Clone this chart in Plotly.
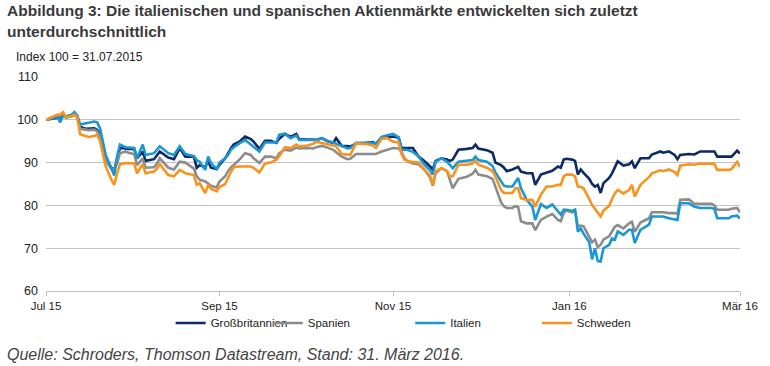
import plotly.graph_objects as go

dates = [
    "2015-07-31", "2015-08-02", "2015-08-04", "2015-08-05", "2015-08-06", "2015-08-07", "2015-08-09", "2015-08-10",
    "2015-08-11", "2015-08-12", "2015-08-14", "2015-08-15", "2015-08-17", "2015-08-18", "2015-08-19", "2015-08-21",
    "2015-08-23", "2015-08-24", "2015-08-25", "2015-08-26", "2015-08-28", "2015-08-29", "2015-08-31", "2015-09-01",
    "2015-09-03", "2015-09-04", "2015-09-07", "2015-09-08", "2015-09-09", "2015-09-12", "2015-09-14", "2015-09-16",
    "2015-09-18", "2015-09-21", "2015-09-22", "2015-09-23", "2015-09-25", "2015-09-26", "2015-09-27", "2015-09-29",
    "2015-09-30", "2015-10-02", "2015-10-03", "2015-10-04", "2015-10-05", "2015-10-07", "2015-10-09", "2015-10-11",
    "2015-10-12", "2015-10-14", "2015-10-16", "2015-10-18", "2015-10-20", "2015-10-21", "2015-10-23", "2015-10-25",
    "2015-10-27", "2015-10-28", "2015-10-31", "2015-11-02", "2015-11-03", "2015-11-05", "2015-11-07", "2015-11-09",
    "2015-11-10", "2015-11-12", "2015-11-14", "2015-11-15", "2015-11-17", "2015-11-19", "2015-11-21", "2015-11-23",
    "2015-11-24", "2015-11-26", "2015-11-28", "2015-11-30",
    "2015-12-02", "2015-12-03", "2015-12-04", "2015-12-05", "2015-12-07", "2015-12-09", "2015-12-11", "2015-12-13",
    "2015-12-14", "2015-12-15", "2015-12-17", "2015-12-19", "2015-12-20", "2015-12-21", "2015-12-23", "2015-12-26",
    "2015-12-28", "2015-12-29", "2015-12-30", "2016-01-02", "2016-01-04", "2016-01-05", "2016-01-07", "2016-01-08",
    "2016-01-09", "2016-01-11", "2016-01-12", "2016-01-13", "2016-01-14", "2016-01-16", "2016-01-18", "2016-01-19",
    "2016-01-21", "2016-01-23", "2016-01-25", "2016-01-27", "2016-01-28", "2016-01-29",
    "2016-01-30", "2016-02-01", "2016-02-02", "2016-02-03", "2016-02-04", "2016-02-05", "2016-02-07", "2016-02-08",
    "2016-02-09", "2016-02-10", "2016-02-11", "2016-02-12", "2016-02-14", "2016-02-15", "2016-02-16", "2016-02-17",
    "2016-02-19", "2016-02-21", "2016-02-22", "2016-02-23", "2016-02-25", "2016-02-28", "2016-02-29", "2016-03-03",
    "2016-03-04", "2016-03-06", "2016-03-08", "2016-03-09", "2016-03-10", "2016-03-13", "2016-03-15", "2016-03-17",
    "2016-03-21", "2016-03-22", "2016-03-23", "2016-03-27", "2016-03-28", "2016-03-30", "2016-03-31",
]

grossbritannien = [
    100, 100.2, 100.4, 100.6, 101.2, 100.8, 101.0, 101.3, 100.8, 98.3, 97.9, 97.9, 98.0, 97.6, 96.5, 90.8,
    88.8, 88.2, 91.0, 93.4, 93.3, 93.2, 93.2, 91.0, 92.6, 90.4, 90.8, 91.6, 92.6, 91.2, 90.8, 93.4,
    91.4, 91.4, 88.8, 89.4, 89.0, 90.4, 88.8, 88.5,
    89.5, 91.0, 92.2, 93.3, 94.2, 94.9, 96.1, 95.5, 94.9, 93.2, 95.1, 95.1, 94.6, 95.6, 96.7, 96.0,
    96.7, 95.5, 95.4, 95.3, 95.3, 95.7, 95.0, 94.6, 95.7, 93.9, 93.8, 93.8, 94.4, 94.4, 94.6, 94.8,
    94.4, 95.7, 95.9, 96.1,
    95.8, 93.4, 93.4, 93.4, 93.4, 91.4, 90.4, 89.1, 88.4, 90.4, 91.0, 90.7, 90.4, 90.7, 93.0, 93.2,
    93.4, 94.2, 93.3, 92.9, 92.3, 90.0, 89.4, 88.8, 88.0, 88.4, 88.8, 89.0, 87.9, 87.5, 87.5, 84.8,
    87.2, 87.6, 88.1, 89.1, 88.8, 90.7,
    90.9, 90.7, 90.4, 87.2, 88.4, 87.6, 86.2, 85.0, 84.4, 84.8, 82.9, 85.2, 86.4, 87.5, 88.8, 90.3,
    89.3, 89.6, 90.3, 88.7, 91.0, 91.0, 91.9, 92.6, 92.3, 92.6, 91.8, 90.8, 91.8, 92.0, 91.9, 92.6,
    92.6, 92.6, 91.4, 91.4, 91.4, 92.8, 92.1,
]

spanien = [
    100, 100.3, 100.8, 100.9, 101.3, 100.5, 100.8, 101.2, 100.5, 97.9, 97.7, 97.6, 97.7, 97.3, 96.0, 90.5,
    88.5, 88.5, 89.8, 92.2, 92.6, 92.3, 92.0, 89.4, 91.0, 88.8, 88.9, 89.8, 91.0, 88.8, 88.4, 90.2,
    90.0, 88.6, 86.8, 86.0, 85.6, 85.2, 84.6, 84.2,
    85.6, 86.8, 88.0, 88.8, 89.4, 90.7, 92.2, 91.8, 91.0, 89.9, 91.4, 91.4, 91.0, 92.2, 93.0, 92.8,
    93.5, 93.3, 93.4, 93.3, 93.6, 93.9, 93.5, 93.0, 92.4, 91.4, 90.8, 90.9, 92.0, 92.0, 91.9, 92.0,
    92.0, 92.6, 93.0, 93.4,
    93.3, 92.5, 91.0, 90.4, 89.8, 89.6, 88.4, 86.6, 84.6, 87.5, 88.7, 88.0, 86.0, 84.0, 86.2, 86.7,
    87.4, 88.3, 87.2, 86.8, 86.2, 84.2, 80.7, 79.8, 79.4, 79.4, 79.8, 79.6, 76.3, 75.8, 75.8, 74.2,
    76.6, 77.4, 78.0, 76.6, 76.3, 78.2,
    78.8, 78.4, 78.8, 75.1, 75.3, 75.1, 72.6, 71.4, 72.0, 70.2, 70.8, 72.0, 72.8, 74.0, 75.0, 75.4,
    74.6, 75.8, 76.2, 73.8, 76.0, 77.0, 78.4, 78.4, 78.4, 78.2, 78.2, 78.0, 81.3, 81.4, 80.4, 80.4,
    80.4, 80.0, 79.0, 79.0, 79.2, 79.4, 78.4,
]

italien = [
    100, 100.4, 100.8, 99.4, 101.0, 100.6, 101.2, 101.8, 101.0, 98.9, 99.2, 99.4, 99.6, 99.4, 98.0, 91.8,
    88.5, 87.0, 91.5, 94.2, 93.6, 93.5, 93.4, 91.0, 94.2, 91.8, 92.2, 93.0, 93.8, 92.2, 91.8, 93.8,
    92.0, 91.5, 90.6, 90.2, 88.3, 91.4, 89.9, 88.5,
    90.0, 91.0, 91.8, 93.0, 93.6, 94.5, 95.3, 94.2, 93.6, 92.6, 94.7, 94.7, 94.7, 96.5, 96.7, 95.7,
    96.3, 95.3, 95.3, 95.3, 95.3, 95.7, 95.0, 94.7, 94.4, 93.9, 93.3, 93.4, 94.6, 94.6, 94.6, 94.6,
    94.4, 96.0, 96.4, 96.7,
    95.9, 93.0, 93.0, 93.0, 92.5, 91.4, 89.5, 88.2, 87.2, 90.2, 91.0, 90.2, 89.5, 88.7, 90.2, 90.4,
    90.6, 91.4, 90.6, 90.2, 89.2, 87.7, 85.6, 84.6, 84.4, 84.4, 85.4, 86.4, 84.0, 81.3, 79.7, 76.6,
    80.3, 79.4, 80.2, 78.5, 77.8, 79.0,
    79.0, 78.7, 79.0, 73.9, 74.6, 73.4, 71.4, 67.4, 70.0, 67.0, 66.9, 70.0, 70.8, 72.3, 72.0, 73.9,
    73.1, 74.3, 74.3, 71.2, 74.3, 75.5, 77.4, 77.4, 77.4, 77.0, 76.8, 76.6, 80.5, 80.5, 79.7, 79.4,
    79.4, 79.2, 77.0, 77.0, 77.4, 77.6, 76.9,
]

schweden = [
    100, 100.6, 101.2, 101.3, 101.8, 100.6, 100.8, 101.2, 100.6, 96.6, 96.2, 96.0, 96.2, 96.5, 95.0, 89.1,
    86.0, 84.8, 87.5, 89.6, 89.9, 89.9, 89.8, 87.5, 89.6, 87.5, 87.9, 88.6, 89.6, 87.1, 86.8, 88.3,
    87.5, 87.1, 84.8, 85.2, 82.9, 84.8, 83.9, 83.3,
    84.3, 85.0, 86.5, 87.8, 88.9, 89.1, 89.1, 89.1, 88.8, 87.7, 89.8, 90.0, 90.7, 91.5, 93.6, 93.4,
    94.2, 93.8, 94.0, 94.4, 94.9, 94.6, 94.2, 94.0, 93.8, 92.0, 91.8, 91.8, 94.5, 94.4, 94.3, 94.0,
    93.4, 95.6, 95.7, 94.9,
    94.7, 92.0, 90.7, 90.4, 90.1, 90.0, 88.3, 87.0, 84.8, 88.0, 88.7, 88.0, 86.8, 86.8, 89.5, 89.5,
    89.8, 90.4, 89.5, 88.8, 88.0, 86.8, 83.6, 82.9, 82.9, 82.9, 84.0, 84.0, 81.7, 81.3, 81.3, 79.7,
    82.5, 84.4, 84.4, 84.8, 84.8, 86.8,
    87.2, 87.2, 86.8, 84.4, 84.3, 84.0, 81.5, 80.1, 79.2, 78.2, 77.4, 78.8, 79.9, 81.5, 82.8, 83.6,
    82.8, 83.6, 84.8, 82.1, 84.8, 86.6, 87.5, 88.2, 88.0, 88.4, 87.8, 87.1, 89.3, 89.6, 89.5, 89.8,
    89.6, 89.7, 88.3, 88.3, 88.5, 90.2, 89.0,
]

series_names = ["Großbritannien", "Spanien", "Italien", "Schweden"]
series_values = [grossbritannien, spanien, italien, schweden]
series_colors = ["#0b2a66", "#8c8c8c", "#1b96d4", "#f7931e"]

tick_dates = ["2015-07-31", "2015-09-30", "2015-11-30", "2016-01-31", "2016-03-31"]
tick_labels = ["Jul 15", "Sep 15", "Nov 15", "Jan 16", "Mär 16"]
y_ticks = [60, 70, 80, 90, 100, 110]

SANS = "Liberation Sans, Arial, sans-serif"

fig = go.Figure()
legend_ids = ["legend", "legend2", "legend3", "legend4"]
legend_x = [0.1796, 0.3196, 0.5248, 0.7073]
for name, vals, col, lid in zip(series_names, series_values, series_colors, legend_ids):
    fig.add_trace(go.Scatter(x=dates, y=vals, name=name, mode="lines",
                             line=dict(color=col, width=2.6), legend=lid))

layout_legends = {}
for lid, lx in zip(legend_ids, legend_x):
    layout_legends[lid] = dict(x=lx, y=-0.1495, xanchor="left", yanchor="middle",
                               orientation="h", bgcolor="rgba(0,0,0,0)",
                               font=dict(family=SANS, size=11.5, color="#222222"),
                               itemwidth=30, tracegroupgap=0)

fig.update_layout(
    width=770, height=366,
    margin=dict(l=46, r=23, t=77, b=75),
    paper_bgcolor="white", plot_bgcolor="white",
    showlegend=True,
    **layout_legends,
    xaxis=dict(type="date", range=["2015-07-31", "2016-03-31"],
               tickvals=tick_dates, ticktext=tick_labels,
               showgrid=False, zeroline=False,
               showline=True, linecolor="#c0c0c0", linewidth=1.2,
               ticks="outside", ticklen=4, tickcolor="#c0c0c0",
               tickfont=dict(family=SANS, size=11.5, color="#222222")),
    yaxis=dict(range=[60, 110], tickvals=y_ticks, showgrid=True,
               gridcolor="#c4c4c4", gridwidth=1, zeroline=False, showline=False,
               ticks="", ticklabelstandoff=7,
               tickfont=dict(family=SANS, size=12.5, color="#222222")),
    annotations=[
        dict(text="<b>Abbildung 3: Die italienischen und spanischen Aktienmärkte entwickelten sich zuletzt</b>",
             xref="paper", yref="paper", x=-0.0585, y=1.36, xanchor="left", yanchor="top",
             showarrow=False, font=dict(family=SANS, size=15.5, color="#3a3a3a")),
        dict(text="<b>unterdurchschnittlich</b>",
             xref="paper", yref="paper", x=-0.0585, y=1.262, xanchor="left", yanchor="top",
             showarrow=False, font=dict(family=SANS, size=15.5, color="#3a3a3a")),
        dict(text="Index 100 = 31.07.2015",
             xref="paper", yref="paper", x=-0.0457, y=1.093, xanchor="left", yanchor="middle",
             showarrow=False, font=dict(family=SANS, size=12, color="#222222")),
        dict(text="<i>Quelle: Schroders, Thomson Datastream, Stand: 31. März 2016.</i>",
             xref="paper", yref="paper", x=-0.0585, y=-0.299, xanchor="left", yanchor="middle",
             showarrow=False, font=dict(family=SANS, size=16, color="#444444")),
    ],
)

fig.write_html("out.html", config={"displayModeBar": False},
               post_script="document.body.style.margin='0';")
